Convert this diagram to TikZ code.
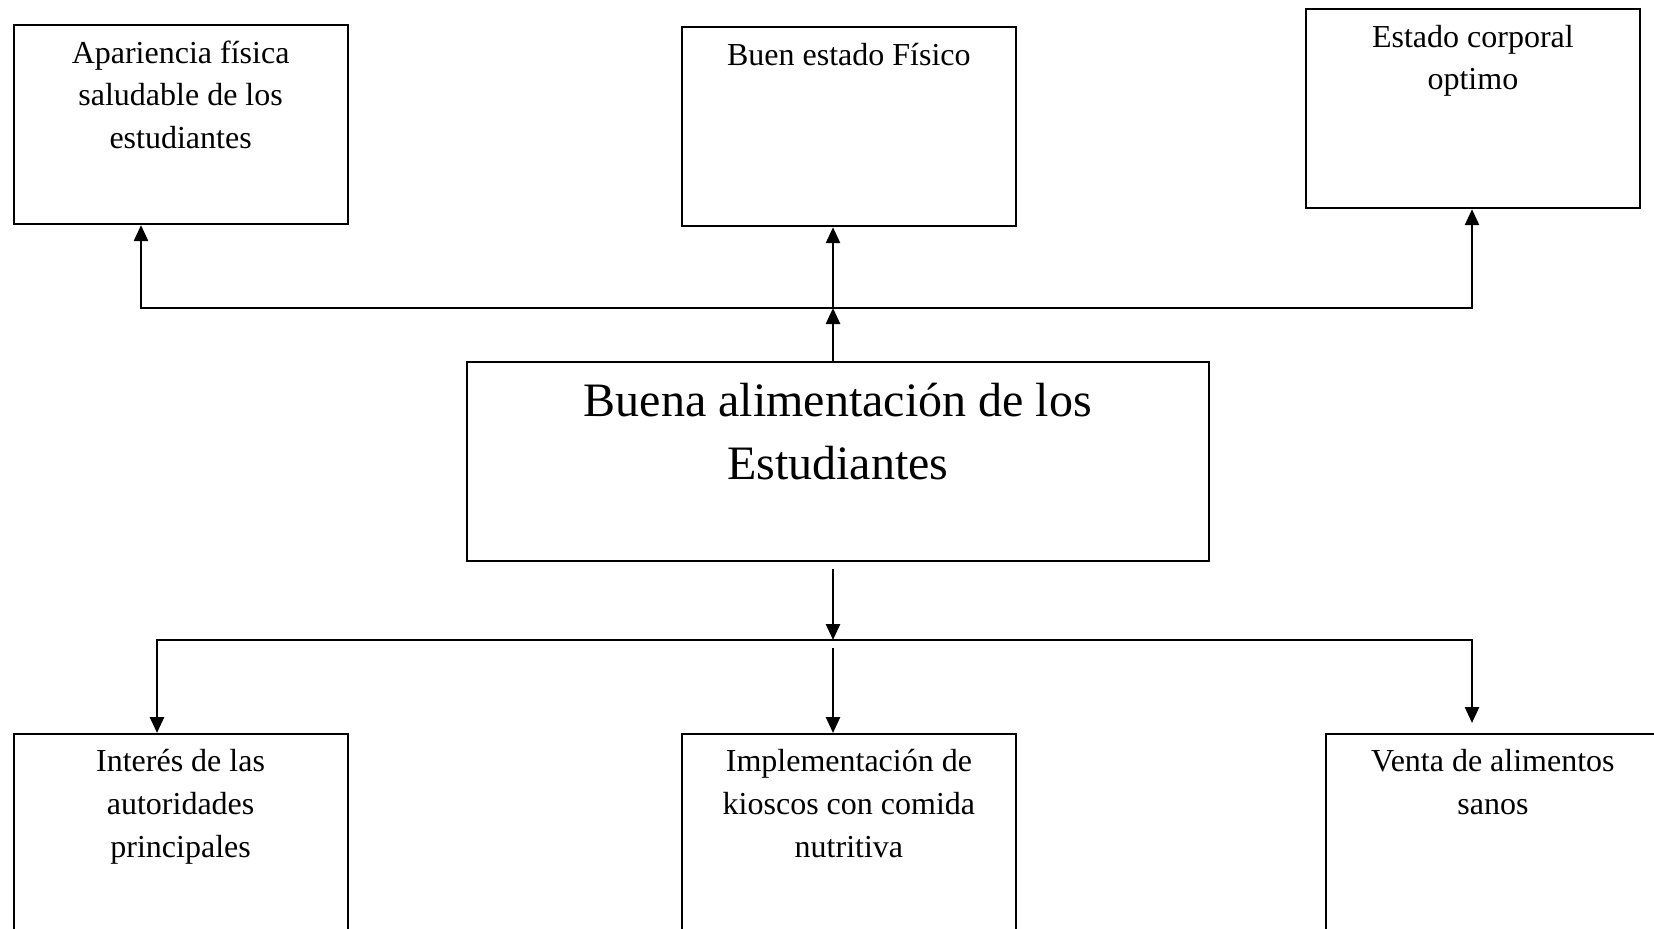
\documentclass[tikz,border=0pt]{standalone}
\usepackage{fontspec}
\setmainfont{Liberation Serif}
\usetikzlibrary{arrows.meta}

\begin{document}
\begin{tikzpicture}[x=0.5pt, y=-0.5pt,
  caja/.style={draw, line width=0.9pt, anchor=north west, inner sep=0pt, align=flush center,
    text width=167pt, text height=19pt, text depth=80.5pt, font=\fontsize{16}{21.3}\selectfont},
  flecha/.style={line width=1.3pt, -{Triangle[length=8pt,width=7pt]}}]

\clip (0,0) rectangle (1654,928);

\node[caja] (apar) at (12.7,24.3) {Apariencia física\\saludable de los\\estudiantes};
\node[caja] (fisico) at (681,26.4) {Buen estado Físico};
\node[caja] (estado) at (1305,8.4) {Estado corporal\\optimo};

\node[caja, text width=371pt, text height=27.3pt, text depth=72.2pt, font=\fontsize{24}{31.6}\selectfont] (centro) at (466,361) {Buena alimentación de los\\Estudiantes};

\node[caja] (interes) at (12.7,733) {Interés de las\\autoridades\\principales};
\node[caja] (kiosco) at (681,733) {Implementación de\\kioscos con comida\\nutritiva};
\node[caja] (venta) at (1325,733) {Venta de alimentos\\sanos};

\coordinate (jarriba) at (833,308);
\coordinate (jizq) at (141,308);
\coordinate (jder) at (1472,308);

\draw[flecha] (jarriba) -- (jizq) -- (jizq |- apar.south);
\draw[flecha] (jarriba) -- (jder) -- (jder |- estado.south);
\draw[flecha] (jarriba) -- (jarriba |- fisico.south);
\draw[flecha] (jarriba |- centro.north) -- (jarriba);

\coordinate (jabajo) at (833,640);
\coordinate (bizq) at (157,640);
\coordinate (bder) at (1472,640);

\draw[flecha] ([yshift=-3.75pt]jabajo |- centro.south) -- (jabajo);
\draw[flecha] (jabajo) -- (bizq) -- (bizq |- interes.north);
\draw[flecha] (jabajo) -- (bder) -- ([yshift=5pt]bder |- venta.north);
\draw[flecha] ([yshift=-4pt]jabajo) -- (jabajo |- kiosco.north);

\end{tikzpicture}
\end{document}
